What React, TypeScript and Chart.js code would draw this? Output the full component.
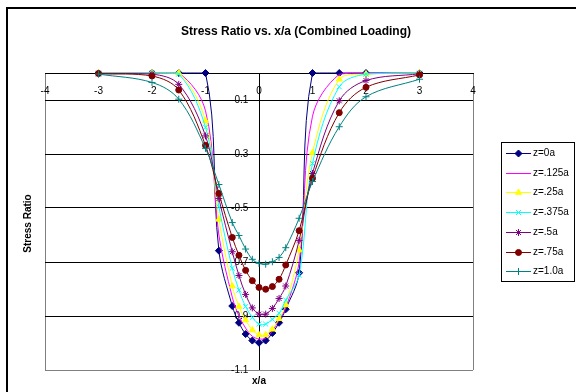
import React, { useEffect, useRef } from 'react';
import { Chart, registerables } from 'chart.js';
import { drawPoint } from 'chart.js/helpers';

Chart.register(...registerables);

// Normalised position along the surface
const xOverA = [-3, -2, -1.5, -1, -0.75, -0.5, -0.375, -0.25, -0.125, 0, 0.125, 0.25, 0.375, 0.5, 0.75, 1, 1.5, 2, 3];

// Stress ratio at each depth z
const z0a = [0, 0, 0, 0, -0.658, -0.863, -0.925, -0.967, -0.991, -0.999, -0.991, -0.963, -0.925, -0.875, -0.74, 0, 0, 0, 0];
const z0125a = [0, 0, 0, -0.14, -0.6, -0.83, -0.9, -0.945, -0.975, -0.985, -0.982, -0.955, -0.915, -0.87, -0.7, -0.16, -0.005, 0, 0];
const z025a = [0, 0, 0, -0.177, -0.542, -0.789, -0.865, -0.915, -0.952, -0.97, -0.97, -0.949, -0.91, -0.859, -0.656, -0.295, -0.023, -0.004, 0];
const z0375a = [0, 0, -0.004, -0.201, -0.495, -0.723, -0.804, -0.865, -0.905, -0.93, -0.93, -0.912, -0.89, -0.841, -0.748, -0.335, -0.051, -0.004, 0];
const z05a = [-0.003, -0.004, -0.042, -0.233, -0.465, -0.662, -0.75, -0.82, -0.87, -0.893, -0.893, -0.872, -0.835, -0.789, -0.62, -0.372, -0.103, -0.028, -0.003];
const z075a = [-0.002, -0.011, -0.063, -0.268, -0.446, -0.609, -0.675, -0.731, -0.769, -0.794, -0.801, -0.791, -0.764, -0.711, -0.584, -0.39, -0.147, -0.053, -0.007];
const z10a = [-0.004, -0.035, -0.097, -0.279, -0.413, -0.554, -0.602, -0.652, -0.69, -0.705, -0.708, -0.699, -0.683, -0.647, -0.538, -0.402, -0.199, -0.088, -0.023];

const seriesLabels = ['z=0a', 'z=.125a', 'z=.25a', 'z=.375a', 'z=.5a', 'z=.75a', 'z=1.0a'];
const seriesValues = [z0a, z0125a, z025a, z0375a, z05a, z075a, z10a];

const xTickValues = [-4, -3, -2, -1, 0, 1, 2, 3, 4];
const yTickValues = [-1.1, -0.9, -0.7, -0.5, -0.3, -0.1];

const chartTitle = 'Stress Ratio vs. x/a (Combined Loading)';
const xTitle = 'x/a';
const yTitle = 'Stress Ratio';

// Series styling
const seriesColors = ['#000080', '#FF00FF', '#FFFF00', '#00FFFF', '#800080', '#800000', '#008080'];
const seriesMarkers = ['rectRot', 'circle', 'triangle', 'crossRot', 'star', 'circle', 'cross'];
const seriesMarkerRadius = [3.5, 0, 3.5, 3.5, 3.5, 3, 3.5];

const fontFamily = "'Liberation Sans', Arial, Helvetica, sans-serif";

const decorations = {
  id: 'decorations',
  beforeDraw(chart: any) {
    const { ctx } = chart;
    ctx.save();
    ctx.fillStyle = '#ffffff';
    ctx.fillRect(0, 0, chart.width, chart.height);
    // outer chart frame
    ctx.fillStyle = '#000000';
    ctx.fillRect(6, 7, chart.width, 2);
    ctx.fillRect(6, 7, 2, chart.height);
    ctx.restore();
  },
  afterDraw(chart: any) {
    const { ctx, chartArea } = chart;
    ctx.save();
    ctx.fillStyle = '#000000';
    ctx.textAlign = 'center';
    ctx.textBaseline = 'middle';
    ctx.font = `bold 12px ${fontFamily}`;
    ctx.fillText(chartTitle, 296, 32);
    ctx.font = `bold 10px ${fontFamily}`;
    ctx.fillText(xTitle, (chartArea.left + chartArea.right) / 2, 381);
    ctx.save();
    ctx.translate(28, (chartArea.top + chartArea.bottom) / 2 + 2);
    ctx.rotate(-Math.PI / 2);
    ctx.fillText(yTitle, 0, 0);
    ctx.restore();

    // legend
    ctx.strokeStyle = '#000000';
    ctx.lineWidth = 1;
    ctx.strokeRect(501.5, 142.5, 73, 139);
    ctx.font = `10px ${fontFamily}`;
    ctx.textAlign = 'left';
    chart.data.datasets.forEach((ds: any, i: number) => {
      const y = Math.round(153 + i * 19.7) + 0.5;
      ctx.strokeStyle = ds.borderColor;
      ctx.lineWidth = 1;
      ctx.beginPath();
      ctx.moveTo(506, y);
      ctx.lineTo(531, y);
      ctx.stroke();
      if (ds.pointRadius > 0) {
        ctx.fillStyle = ds.backgroundColor;
        ctx.strokeStyle = ds.borderColor;
        drawPoint(ctx, { pointStyle: ds.pointStyle, radius: ds.pointRadius, rotation: 0, borderWidth: 1 }, 518.5, y);
      }
      ctx.fillStyle = '#000000';
      ctx.fillText(ds.label, 533, y);
    });
    ctx.restore();
  },
};

export default function App() {
  const canvasRef = useRef<HTMLCanvasElement>(null);

  useEffect(() => {
    const canvas = canvasRef.current;
    if (!canvas) return;
    const datasets = seriesValues.map((vals, i) => ({
      label: seriesLabels[i],
      data: xOverA.map((x, j) => ({ x, y: vals[j] })),
      borderColor: seriesColors[i],
      backgroundColor: seriesColors[i],
      pointStyle: seriesMarkers[i],
      pointRadius: seriesMarkerRadius[i],
      pointBorderWidth: 1,
      borderWidth: 1,
      showLine: true,
      tension: 0.35,
      fill: false,
      clip: 8,
      order: seriesValues.length - i,
    }));

    const chart = new Chart(canvas, {
      type: 'scatter',
      data: { datasets },
      options: {
        responsive: false,
        animation: false,
        events: [],
        layout: { autoPadding: false, padding: { left: 45, top: 73, right: 103, bottom: 22 } },
        plugins: {
          legend: { display: false },
          title: { display: false },
          tooltip: { enabled: false },
        },
        scales: {
          x: {
            type: 'linear',
            min: -4,
            max: 4,
            position: { y: 0 },
            afterBuildTicks: (scale: any) => {
              scale.ticks = xTickValues.map((v) => ({ value: v }));
            },
            ticks: {
              color: '#000000',
              font: { family: fontFamily, size: 10 },
              padding: 12,
              autoSkip: false,
              maxRotation: 0,
            },
            grid: {
              drawTicks: false,
              lineWidth: 1,
              color: (c: any) => {
                const v = c.tick ? c.tick.value : null;
                if (v === 0) return '#000000';
                if (v === -4 || v === 4) return '#808080';
                return 'rgba(0,0,0,0)';
              },
            },
            border: { display: true, color: '#000000', width: 1 },
          },
          y: {
            type: 'linear',
            min: -1.1,
            max: 0,
            position: { x: -0.2 },
            afterBuildTicks: (scale: any) => {
              scale.ticks = yTickValues.map((v) => ({ value: v }));
            },
            ticks: {
              color: '#000000',
              font: { family: fontFamily, size: 10 },
              autoSkip: false,
              callback: (v: any) => Number(v).toFixed(1),
            },
            grid: {
              drawTicks: false,
              lineWidth: 1,
              color: (c: any) => (c.tick && c.tick.value === -1.1 ? '#808080' : '#000000'),
            },
            border: { display: false },
          },
        },
      },
      plugins: [decorations],
    } as any);

    return () => chart.destroy();
  }, []);

  return (
    <div style={{ position: 'fixed', left: 0, top: 0, width: 576, height: 392, overflow: 'hidden', background: '#fff' }}>
      <canvas ref={canvasRef} width={576} height={392} style={{ display: 'block' }} />
    </div>
  );
}
